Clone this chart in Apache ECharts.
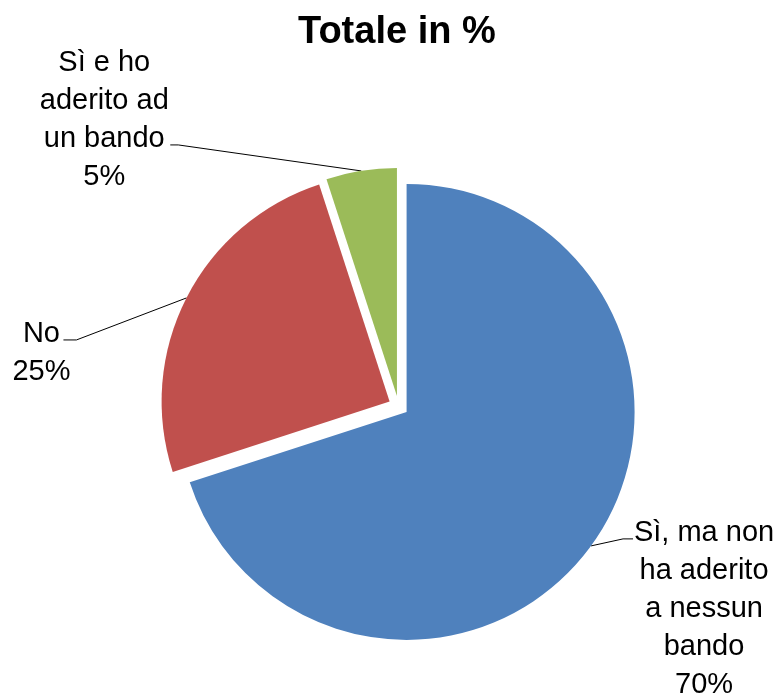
<!DOCTYPE html>
<html><head><meta charset="utf-8">
<script src="https://cdn.jsdelivr.net/npm/echarts@6/dist/echarts.min.js"></script>
<style>html,body{margin:0;padding:0;background:#fff}#c{width:777px;height:693px}</style>
</head><body><div id="c"></div>
<script>
// ---- data ----
const categories = ['Sì, ma non ha aderito a nessun bando', 'No', 'Sì e ho aderito ad un bando'];
const labelText = [['Sì, ma non', 'ha aderito', 'a nessun', 'bando'], ['No'], ['Sì e ho', 'aderito ad', 'un bando']];
const values = [70, 25, 5];
const colors = ['#4F81BD', '#C0504D', '#9BBB59'];

// ---- label layout styles (per slice) ----
const FONT = '"Liberation Sans", Arial, sans-serif';
const LH = 38;
const labelStyle = [
  { length2: 42, anchor: 0, lineDy: -7, width: 132, elbow: 10 },
  { length2: 123, anchor: 0, lineDy: 42, width: 34, elbow: 13 },
  { length2: 191, anchor: 2, lineDy: -26, width: 122, elbow: 8 }
];

const chart = echarts.init(document.getElementById('c'), null, { renderer: 'canvas' });
const data = categories.map((name, i) => ({
  name: name,
  value: values[i],
  selected: true,
  itemStyle: { color: colors[i] },
  label: {
    rich: { c: { width: labelStyle[i].width, align: 'center', fontSize: 29, lineHeight: LH, fontFamily: FONT, color: '#000' } }
  },
  labelLine: { length: 0, length2: labelStyle[i].length2 }
}));

const option = {
  animation: false,
  title: {
    text: 'Totale in %', left: 298, top: 14, padding: 0,
    textStyle: { fontSize: 38, fontWeight: 'bold', fontFamily: FONT, color: '#000' }
  },
  series: [{
    type: 'pie',
    center: [398.5, 406],
    radius: 228,
    startAngle: 90,
    clockwise: true,
    selectedMode: 'multiple',
    selectedOffset: 10,
    avoidLabelOverlap: false,
    emphasis: { disabled: true },
    data: data,
    label: {
      show: true, position: 'outside', alignTo: 'none', overflow: 'none', bleedMargin: 0, distanceToLabelLine: 5,
      formatter: function (p) {
        const lines = labelText[p.dataIndex].concat([p.value + '%']);
        return lines.map(t => '{c|' + t + '}').join('\n');
      }
    },
    labelLine: { show: true, lineStyle: { color: '#000', width: 1 } },
    labelLayout: function (p) {
      const i = p.dataIndex, s = labelStyle[i];
      const pts = p.labelLinePoints;
      if (!pts) return {};
      const p0 = pts[0], pe = pts[pts.length - 1];
      const dir = pe[0] < p0[0] ? -1 : 1;
      const y = pe[1] + s.lineDy;
      const n = labelText[i].length + 1;
      const dy = s.lineDy - 6 - (s.anchor + 0.5 - n / 2) * LH;
      return { dy: dy, labelLinePoints: [p0, [pe[0] - dir * s.elbow, y], [pe[0], y]] };
    }
  }]
};
chart.setOption(option);
</script>
</body></html>
